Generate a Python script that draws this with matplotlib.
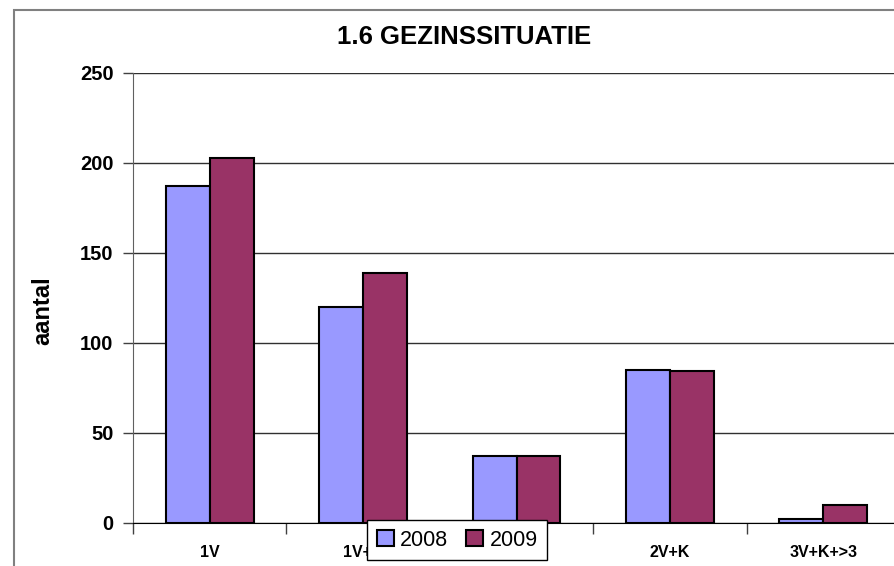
import numpy as np
import matplotlib
matplotlib.use("Agg")
import matplotlib.pyplot as plt
from matplotlib.patches import Rectangle

plt.rcParams['font.family'] = ['Liberation Sans', 'DejaVu Sans']

# --- data ---
categories = ['1V', '1V+K', '2V', '2V+K', '3V+K+>3']
series_names = ['2008', '2009']
values_2008 = [187, 120, 37, 85, 2]
values_2009 = [203, 139, 37, 84, 10]
colors = ['#9999FF', '#993366']
yticks = [0, 50, 100, 150, 200, 250]

W, H = 895, 566
fig = plt.figure(figsize=(W / 100, H / 100), dpi=100)

# outer chart border (runs off the right / bottom edge like the source)
top = 1 - 10 / H
fig.patches.append(Rectangle((14 / W, -0.2), 1.2, top + 0.2,
                             transform=fig.transFigure, fill=False,
                             edgecolor='#808080', linewidth=1.5))

ax = fig.add_axes([133 / W, 1 - 522.5 / H, 767 / W, 449.5 / H])

x = np.arange(len(categories)) + 0.5
bw = 0.286
ax.bar(x - bw / 2, values_2008, bw, color=colors[0], edgecolor='black',
       linewidth=1.5, label=series_names[0], zorder=3)
ax.bar(x + bw / 2, values_2009, bw, color=colors[1], edgecolor='black',
       linewidth=1.5, label=series_names[1], zorder=3)

ax.set_xlim(0, len(categories))
ax.set_ylim(0, 250)
ax.set_yticks(yticks)
ax.set_yticklabels([str(v) for v in yticks], fontsize=14.5, fontweight='bold')
ax.tick_params(axis='y', length=7, width=1, pad=7, color='#404040')

# category boundaries as major ticks, names on minor ticks
ax.set_xticks(np.arange(len(categories) + 1))
ax.set_xticklabels([])
ax.set_xticks(x, minor=True)
ax.set_xticklabels(categories, minor=True, fontsize=11.5, fontweight='bold')
ax.tick_params(axis='x', which='major', length=8, width=1, color='#404040')
ax.tick_params(axis='x', which='minor', length=0, pad=16)

ax.grid(axis='y', color='#303030', linewidth=1, zorder=0)
for s in ['top', 'right']:
    ax.spines[s].set_visible(False)
ax.spines['left'].set_color('#606060')
ax.spines['bottom'].set_color('black')
ax.spines['bottom'].set_zorder(4)

ax.set_ylabel('aantal', fontsize=17, fontweight='bold')
ax.yaxis.set_label_coords(-(133 - 54) / 767, (522.5 - 311) / 449.5)

fig.text(464 / W, 1 - 37 / H, '1.6 GEZINSSITUATIE',
         ha='center', va='center', fontsize=18.5, fontweight='bold')

leg = fig.legend(loc='upper left', bbox_to_anchor=(367 / W, 1 - 520 / H),
                 ncol=2, fontsize=15.5, frameon=True, fancybox=False,
                 edgecolor='black', framealpha=1, borderaxespad=0,
                 handlelength=0.8, handleheight=0.8, handletextpad=0.3,
                 columnspacing=0.8, borderpad=0.45)
leg.get_frame().set_linewidth(1)
leg.set_zorder(10)

fig.savefig('out.png', dpi=100)
